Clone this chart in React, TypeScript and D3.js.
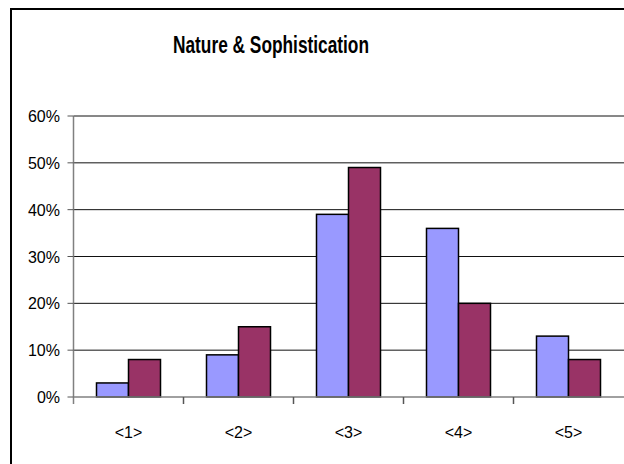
import React, { useEffect, useRef } from 'react';
import * as d3 from 'd3';

const categories = ['<1>', '<2>', '<3>', '<4>', '<5>'];
const seriesA = [0.03, 0.09, 0.39, 0.36, 0.13];
const seriesB = [0.08, 0.15, 0.49, 0.2, 0.08];
const yTicks = [0, 0.1, 0.2, 0.3, 0.4, 0.5, 0.6];
const title = 'Nature & Sophistication';

const colors = ['#9999FF', '#993366'];

const App: React.FC = () => {
	const svgRef = useRef<SVGSVGElement | null>(null);

	useEffect(() => {
		if (!svgRef.current) return;
		const width = 624;
		const height = 464;
		const left = 73.5;
		const right = 623.5;
		const top = 116;
		const bottom = 397;

		const svg = d3.select(svgRef.current);
		svg.selectAll('*').remove();
		svg.attr('width', width).attr('height', height);

		// outer frame
		svg
			.append('rect')
			.attr('x', 11)
			.attr('y', 9)
			.attr('width', width + 20)
			.attr('height', height + 20)
			.attr('fill', 'white')
			.attr('stroke', 'black')
			.attr('stroke-width', 2);

		svg
			.append('text')
			.attr('x', 271)
			.attr('y', 53)
			.attr('text-anchor', 'middle')
			.attr('font-family', 'Liberation Sans, Arial, sans-serif')
			.attr('font-weight', 'bold')
			.attr('font-size', 23)
			.attr('textLength', 196)
			.attr('lengthAdjust', 'spacingAndGlyphs')
			.text(title);

		const x = d3.scaleBand<string>().domain(categories).range([left, right]);
		const inner = d3.scaleBand<number>().domain([0, 1]).range([0, 64]);
		const y = d3.scaleLinear().domain([0, 0.6]).range([bottom, top]);

		// gridlines
		svg
			.append('g')
			.selectAll('line')
			.data(yTicks.filter((d) => d > 0))
			.join('line')
			.attr('x1', left)
			.attr('x2', right + 2)
			.attr('y1', (d) => y(d))
			.attr('y2', (d) => y(d))
			.attr('stroke', '#111')
			.attr('stroke-width', 1);

		// bars
		const groups = svg
			.append('g')
			.selectAll('g')
			.data(categories)
			.join('g')
			.attr('transform', (d) => `translate(${(x(d) ?? 0) + (x.bandwidth() - 64) / 2},0)`);

		groups
			.selectAll('rect')
			.data((d, i) => [seriesA[i], seriesB[i]])
			.join('rect')
			.attr('x', (d, j) => inner(j) ?? 0)
			.attr('y', (d) => y(d))
			.attr('width', inner.bandwidth())
			.attr('height', (d) => bottom - y(d))
			.attr('fill', (d, j) => colors[j])
			.attr('stroke', 'black')
			.attr('stroke-width', 1.5);

		// y axis
		const yAxis = svg.append('g').attr('font-family', 'Liberation Sans, Arial, sans-serif');
		yAxis
			.append('line')
			.attr('x1', left)
			.attr('x2', left)
			.attr('y1', top)
			.attr('y2', bottom + 7)
			.attr('stroke', '#808080')
			.attr('stroke-width', 1.5);
		yAxis
			.selectAll('line.tick')
			.data(yTicks)
			.join('line')
			.attr('class', 'tick')
			.attr('x1', left - 6)
			.attr('x2', left)
			.attr('y1', (d) => y(d))
			.attr('y2', (d) => y(d))
			.attr('stroke', '#555');
		yAxis
			.selectAll('text')
			.data(yTicks)
			.join('text')
			.attr('x', 60)
			.attr('y', (d) => y(d) + 6)
			.attr('text-anchor', 'end')
			.attr('font-size', 16)
			.text((d) => d3.format('.0%')(d));

		// x axis
		const xAxis = svg.append('g').attr('font-family', 'Liberation Sans, Arial, sans-serif');
		xAxis
			.append('line')
			.attr('x1', left)
			.attr('x2', right + 2)
			.attr('y1', bottom)
			.attr('y2', bottom)
			.attr('stroke', '#808080')
			.attr('stroke-width', 1.5);
		xAxis
			.selectAll('line.tick')
			.data(categories.slice(1))
			.join('line')
			.attr('class', 'tick')
			.attr('x1', (d) => x(d) ?? 0)
			.attr('x2', (d) => x(d) ?? 0)
			.attr('y1', bottom)
			.attr('y2', bottom + 7)
			.attr('stroke', '#555')
			.attr('stroke-width', 1.5);
		xAxis
			.selectAll('text')
			.data(categories)
			.join('text')
			.attr('x', (d) => (x(d) ?? 0) + x.bandwidth() / 2)
			.attr('y', 438)
			.attr('text-anchor', 'middle')
			.attr('font-size', 16)
			.text((d) => d);
	}, []);

	return <svg ref={svgRef} style={{ position: 'absolute', left: 0, top: 0, display: 'block' }}></svg>;
};

export default App;
